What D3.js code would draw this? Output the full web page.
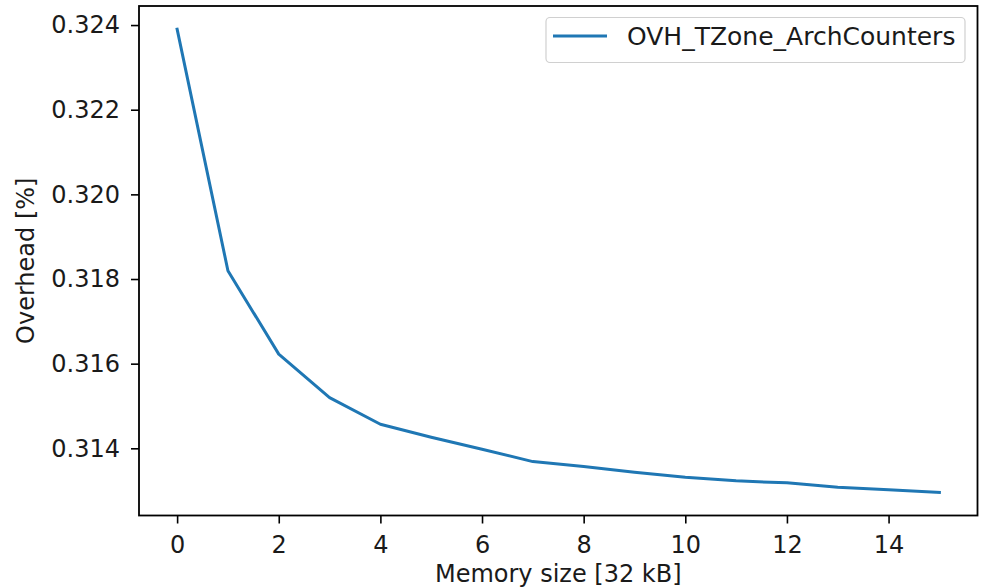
<!DOCTYPE html>
<html>
<head>
<meta charset="utf-8">
<script src="https://cdn.jsdelivr.net/npm/d3@7"></script>
<style>
  html, body { margin: 0; padding: 0; background: #fff; }
  svg { display: block; font-family: "DejaVu Sans", sans-serif; }
</style>
</head>
<body>
<svg id="chart" width="982" height="588"></svg>
<script>
const memorySize = [0, 1, 2, 3, 4, 5, 6, 7, 8, 9, 10, 11, 12, 13, 14, 15];
const overhead = [0.323903, 0.318196, 0.316226, 0.315196, 0.314568, 0.314262, 0.313979, 0.313686,
                  0.313568, 0.313436, 0.313318, 0.313231, 0.313184, 0.313078, 0.313019, 0.312960];
const seriesName = "OVH_TZone_ArchCounters";
const xTicks = [0, 2, 4, 6, 8, 10, 12, 14];
const yTicks = [0.314, 0.316, 0.318, 0.320, 0.322, 0.324];
const xLabel = "Memory size [32 kB]";
const yLabel = "Overhead [%]";

const svg = d3.select("#chart");
const plotLeft = 139, plotRight = 977.5, plotTop = 6, plotBottom = 515.5;

const xMin = d3.min(memorySize), xMax = d3.max(memorySize);
const xPad = (xMax - xMin) * 0.05;
const x = d3.scaleLinear().domain([xMin - xPad, xMax + xPad]).range([plotLeft, plotRight]);
const yMin = d3.min(overhead), yMax = d3.max(overhead);
const yPad = (yMax - yMin) * 0.05;
const y = d3.scaleLinear().domain([yMin - yPad, yMax + yPad]).range([plotBottom, plotTop]);

const color = "#1f77b4";
const fs = 24;

// line
const line = d3.line().x((d, i) => x(memorySize[i])).y(d => y(d));
svg.append("path")
  .datum(overhead)
  .attr("d", line)
  .attr("fill", "none")
  .attr("stroke", color)
  .attr("stroke-width", 3)
  .attr("stroke-linejoin", "round")
  .attr("stroke-linecap", "square");

// axes
const xAxis = d3.axisBottom(x).tickValues(xTicks).tickFormat(d3.format("d")).tickSizeOuter(0).tickSize(8).tickPadding(12);
const gx = svg.append("g").attr("transform", `translate(0,${plotBottom})`).call(xAxis);
const yAxis = d3.axisLeft(y).tickValues(yTicks).tickFormat(d3.format(".3f")).tickSizeOuter(0).tickSize(8).tickPadding(11);
const gy = svg.append("g").attr("transform", `translate(${plotLeft},0)`).call(yAxis);

[gx, gy].forEach(g => {
  g.select(".domain").remove();
  g.selectAll(".tick line").attr("stroke", "#000").attr("stroke-width", 1.6);
  g.selectAll(".tick text").attr("fill", "#1a1a1a").style("font-size", fs + "px").style("font-family", "DejaVu Sans");
});

// frame
svg.append("rect")
  .attr("x", plotLeft).attr("y", plotTop)
  .attr("width", plotRight - plotLeft).attr("height", plotBottom - plotTop)
  .attr("fill", "none").attr("stroke", "#000").attr("stroke-width", 1.8);

// axis labels
svg.append("text")
  .attr("x", (plotLeft + plotRight) / 2).attr("y", 582)
  .attr("text-anchor", "middle")
  .attr("fill", "#1a1a1a")
  .style("font-size", fs + "px")
  .text(xLabel);

svg.append("text")
  .attr("transform", `translate(34,${(plotTop + plotBottom) / 2}) rotate(-90)`)
  .attr("text-anchor", "middle")
  .attr("fill", "#1a1a1a")
  .style("font-size", fs + "px")
  .text(yLabel);

// legend
const lg = svg.append("g");
lg.append("rect")
  .attr("x", 546).attr("y", 17.5).attr("width", 419).attr("height", 45)
  .attr("rx", 4).attr("ry", 4)
  .attr("fill", "#fff").attr("fill-opacity", 0.8)
  .attr("stroke", "#d0d0d0").attr("stroke-width", 1.2);
lg.append("line")
  .attr("x1", 553).attr("x2", 607).attr("y1", 36).attr("y2", 36)
  .attr("stroke", color).attr("stroke-width", 3);
lg.append("text")
  .attr("x", 627).attr("y", 45)
  .attr("fill", "#1a1a1a")
  .style("font-size", (fs + 1) + "px")
  .text(seriesName);
</script>
</body>
</html>
